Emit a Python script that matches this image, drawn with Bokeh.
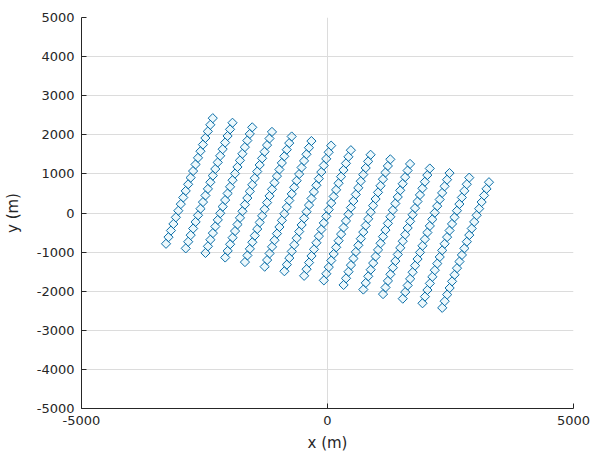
import numpy as np
from bokeh.plotting import figure
from bokeh.models import Range1d, FixedTicker, ColumnDataSource
from bokeh.embed import file_html
from bokeh.resources import INLINE

# Column (line) centres of the rotated station grid, in metres
col_x = [-2807, -2406, -2005, -1604, -1203, -802, -401, 0, 401, 802, 1203, 1604, 2005, 2406, 2807]
col_y = [819, 702, 585, 468, 351, 234, 117, 0, -117, -234, -351, -468, -585, -702, -819]
# Station offsets along each line, relative to the line centre, in metres
stn_dx = [-475, -425, -375, -325, -275, -225, -175, -125, -75, -25,
          25, 75, 125, 175, 225, 275, 325, 375, 425, 475]
stn_dy = [-1606, -1437, -1268, -1099, -930, -761, -592, -423, -254, -85,
          85, 254, 423, 592, 761, 930, 1099, 1268, 1437, 1606]

x_ticks = [-5000, 0, 5000]
y_ticks = [-5000, -4000, -3000, -2000, -1000, 0, 1000, 2000, 3000, 4000, 5000]
x_tick_labels = ["-5000", "0", "5000"]
y_tick_labels = ["-5000", "-4000", "-3000", "-2000", "-1000", "0",
                 "1000", "2000", "3000", "4000", "5000"]

xs = np.add.outer(np.array(col_x), np.array(stn_dx)).ravel()
ys = np.add.outer(np.array(col_y), np.array(stn_dy)).ravel()
src = ColumnDataSource(dict(x=xs, y=ys))

p = figure(width=593, height=459, output_backend="svg", toolbar_location=None,
           x_range=Range1d(-5000, 5000), y_range=Range1d(-5000, 5000),
           min_border_left=81, min_border_right=20, min_border_top=17, min_border_bottom=51)
p.outline_line_color = None
p.background_fill_color = "white"
p.border_fill_color = "white"

p.scatter("x", "y", source=src, marker="square", angle=np.pi / 4, size=6.5,
          line_color="#0b6ea8", line_width=1, fill_color="#7fd0ee", fill_alpha=0.15)

font = "DejaVu Sans"
for ax, ticks, labs, lab in ((p.xaxis[0], x_ticks, x_tick_labels, "x (m)"),
                             (p.yaxis[0], y_ticks, y_tick_labels, "y (m)")):
    ax.ticker = FixedTicker(ticks=ticks)
    ax.major_label_overrides = {t: s for t, s in zip(ticks, labs)}
    ax.axis_label = lab
    ax.axis_label_text_font = font
    ax.axis_label_text_font_style = "normal"
    ax.axis_label_text_font_size = "15px"
    ax.axis_label_text_color = "#262626"
    ax.major_label_text_font = font
    ax.major_label_text_font_size = "13px"
    ax.major_label_text_color = "#262626"
    ax.axis_line_color = "#262626"
    ax.major_tick_line_color = "#262626"
    ax.major_tick_in = 5
    ax.major_tick_out = 0
    ax.minor_tick_line_color = None
    ax.major_label_standoff = 7

p.xaxis[0].axis_label_standoff = 6
p.yaxis[0].axis_label_standoff = 12

for g, ticks in ((p.xgrid[0], x_ticks), (p.ygrid[0], y_ticks)):
    g.ticker = FixedTicker(ticks=ticks)
    g.grid_line_color = "#dcdcdc"
    g.grid_line_width = 1

open("out.html", "w").write(file_html(p, INLINE))
